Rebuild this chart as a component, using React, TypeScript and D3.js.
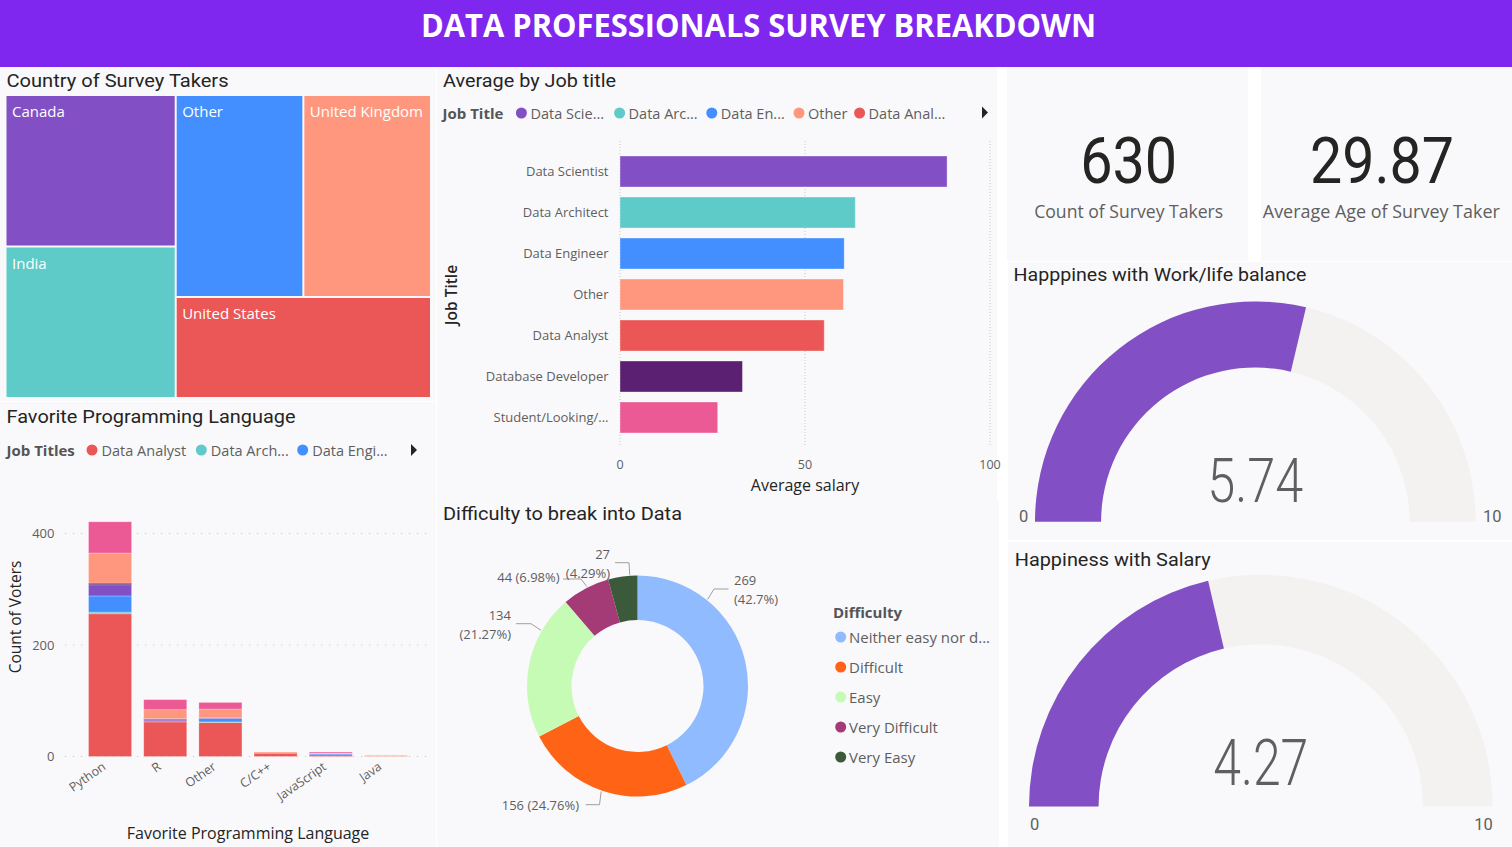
import React from 'react';
import * as d3 from 'd3';

// ---------- DATA ----------
const headerTitle = 'DATA PROFESSIONALS SURVEY BREAKDOWN';

const countries = ['Canada', 'India', 'Other', 'United Kingdom', 'United States'];
const countryCounts = [126, 126, 126, 126, 126];
const countryColors = ['#8250C4', '#5ECBC8', '#438FFF', '#FF977E', '#EB5757'];

const jobTitles = ['Data Scientist', 'Data Architect', 'Data Engineer', 'Other', 'Data Analyst', 'Database Developer', 'Student/Looking/...'];
const avgSalary = [88.4, 63.6, 60.6, 60.4, 55.2, 33.1, 26.4];
const jobColors = ['#8250C4', '#5ECBC8', '#438FFF', '#FF977E', '#EB5757', '#5B2071', '#EC5A96'];
const salaryTicks = [0, 50, 100];
const jobLegend = ['Data Scie...', 'Data Arc...', 'Data En...', 'Other', 'Data Anal...'];

const languages = ['Python', 'R', 'Other', 'C/C++', 'JavaScript', 'Java'];
const stackKeys = ['Data Analyst', 'Data Architect', 'Data Engineer', 'Data Scientist', 'Database Developer', 'Other', 'Student/Looking/None'];
const stackColors = ['#EB5757', '#5ECBC8', '#438FFF', '#8250C4', '#5B2071', '#FF977E', '#EC5A96'];
const votesDataAnalyst = [256, 62, 61, 6, 3, 0];
const votesDataArchitect = [3, 0, 1, 0, 0, 0];
const votesDataEngineer = [29, 2, 6, 0, 2, 0];
const votesDataScientist = [20, 3, 1, 0, 0, 0];
const votesDatabaseDev = [3, 1, 1, 0, 0, 0];
const votesOther = [54, 16, 15, 2, 1, 2];
const votesStudent = [56, 18, 12, 0, 2, 0];
const voteTicks = [0, 200, 400];
const langLegend = ['Data Analyst', 'Data Arch...', 'Data Engi...'];
const langLegendColors = ['#EB5757', '#5ECBC8', '#438FFF'];

const difficulty = ['Neither easy nor difficult', 'Difficult', 'Easy', 'Very Difficult', 'Very Easy'];
const difficultyLegend = ['Neither easy nor d...', 'Difficult', 'Easy', 'Very Difficult', 'Very Easy'];
const difficultyCounts = [269, 156, 134, 44, 27];
const difficultyColors = ['#91BBFF', '#FF6315', '#C5FBB4', '#A43B76', '#3B5A39'];

const surveyCount = 630;
const avgAge = 29.87;
const happyWorkLife = 5.74;
const happySalary = 4.27;
const gaugeMin = 0;
const gaugeMax = 10;

// ---------- STYLE ----------
const SANS = "'Segoe UI', 'Open Sans', sans-serif";
const DIN = "Roboto, 'Open Sans', sans-serif";
const PANEL = '#F9F9FC';
const DARK = '#252423';
const GRAY = '#605E5C';

function Txt(props: any) {
  const { w, children, ...rest } = props;
  return (
    <text {...rest} textLength={w} lengthAdjust={w ? 'spacingAndGlyphs' : undefined}>
      {children}
    </text>
  );
}

function Arrow({ x, y }: { x: number; y: number }) {
  return <path d={`M${x},${y - 6}L${x + 6},${y}L${x},${y + 6}Z`} fill="#252423" />;
}

function Treemap() {
  const root = d3
    .hierarchy({ children: countries.map((c, i) => ({ name: c, value: countryCounts[i], color: countryColors[i] })) } as any)
    .sum((d: any) => d.value || 0);
  d3.treemap().tile(d3.treemapSquarify.ratio(1)).size([423.5, 301]).paddingInner(2)(root as any);
  const leaves = root.leaves() as any[];
  return (
    <g transform="translate(6.5,96)">
      {leaves.map((l, i) => (
        <g key={i}>
          <rect x={l.x0} y={l.y0} width={l.x1 - l.x0} height={l.y1 - l.y0} fill={l.data.color} />
          <text x={l.x0 + 5.5} y={l.y0 + 21} fill="#fff" fontFamily={SANS} fontSize={15}>
            {l.data.name}
          </text>
        </g>
      ))}
    </g>
  );
}

function SalaryBars() {
  const x = d3.scaleLinear().domain([0, 100]).range([620, 990]);
  const y = d3.scaleBand().domain(jobTitles).range([143.7, 445.3]).paddingInner(0.244).paddingOuter(0.3);
  return (
    <g>
      {salaryTicks.map((t) => (
        <g key={t}>
          <line x1={x(t)} x2={x(t)} y1={141} y2={447} stroke="#C8C6C4" strokeDasharray="1,2" />
          <text x={x(t)} y={468.5} textAnchor="middle" fontFamily={SANS} fontSize={12.5} fill={GRAY}>
            {t}
          </text>
        </g>
      ))}
      {jobTitles.map((j, i) => (
        <g key={j}>
          <rect x={x(0)} y={y(j)!} width={x(avgSalary[i]) - x(0)} height={y.bandwidth()} fill={jobColors[i]} stroke="#fff" strokeOpacity={0.35} />
          <text x={608.5} y={y(j)! + y.bandwidth() / 2 + 4.5} textAnchor="end" fontFamily={SANS} fontSize={13} fill={GRAY}>
            {j}
          </text>
        </g>
      ))}
      <text transform="translate(456.5,295) rotate(-90)" textAnchor="middle" fontFamily={SANS} fontSize={15.5} fontWeight={600} fill={DARK}>
        Job Title
      </text>
      <text x={805} y={491} textAnchor="middle" fontFamily={SANS} fontSize={16} fill={DARK}>
        Average salary
      </text>
      {/* legend */}
      <text x={442.5} y={118.5} fontFamily={SANS} fontSize={15} fontWeight={700} fill="#555">
        Job Title
      </text>
      {jobLegend.map((l, i) => {
        const cx = [521.4, 619.6, 711.8, 799, 859.6][i];
        return (
          <g key={l}>
            <circle cx={cx} cy={113} r={5.5} fill={jobColors[i]} />
            <text x={cx + 9} y={118.5} fontFamily={SANS} fontSize={14.5} fill={GRAY}>
              {l}
            </text>
          </g>
        );
      })}
      <Arrow x={982} y={112.5} />
    </g>
  );
}

function LanguageStack() {
  const rows = languages.map((l, i) => ({
    lang: l,
    'Data Analyst': votesDataAnalyst[i],
    'Data Architect': votesDataArchitect[i],
    'Data Engineer': votesDataEngineer[i],
    'Data Scientist': votesDataScientist[i],
    'Database Developer': votesDatabaseDev[i],
    Other: votesOther[i],
    'Student/Looking/None': votesStudent[i],
  }));
  const series = d3.stack<any>().keys(stackKeys)(rows);
  const x = d3.scaleBand().domain(languages).range([72, 424]).paddingInner(0.22).paddingOuter(0.3);
  const y = d3.scaleLinear().domain([0, 400]).range([756.5, 533.5]);
  return (
    <g>
      {voteTicks.map((t) => (
        <g key={t}>
          <line x1={65} x2={428} y1={y(t)} y2={y(t)} stroke="#C8C6C4" strokeDasharray="1.2,6.8" />
          <text x={54.5} y={y(t) + 4.5} textAnchor="end" fontFamily={SANS} fontSize={13} fill={GRAY}>
            {t}
          </text>
        </g>
      ))}
      {series.map((s, si) =>
        s.map((d, di) =>
          d[1] - d[0] > 0 ? (
            <rect
              key={`${si}-${di}`}
              x={x(languages[di])!}
              y={y(d[1])}
              width={x.bandwidth()}
              height={y(d[0]) - y(d[1])}
              fill={stackColors[si]}
              stroke="#fff"
              strokeOpacity={0.3}
              strokeWidth={0.8}
            />
          ) : null
        )
      )}
      {languages.map((l) => (
        <text
          key={l}
          transform={`translate(${x(l)! + x.bandwidth() / 2 - 6},${765}) rotate(-35)`}
          textAnchor="end"
          fontFamily={SANS}
          fontSize={12.5}
          fill={GRAY}
          dy="0.35em"
        >
          {l}
        </text>
      ))}
      <text transform="translate(21,617) rotate(-90)" textAnchor="middle" fontFamily={SANS} fontSize={15.5} fill={DARK}>
        Count of Voters
      </text>
      <text x={248} y={838.5} textAnchor="middle" fontFamily={SANS} fontSize={16} fill={DARK}>
        Favorite Programming Language
      </text>
      {/* legend */}
      <text x={6.5} y={455.5} fontFamily={SANS} fontSize={15} fontWeight={700} fill="#555">
        Job Titles
      </text>
      {langLegend.map((l, i) => {
        const cx = [92, 201.3, 302.7][i];
        return (
          <g key={l}>
            <circle cx={cx} cy={450} r={5.5} fill={langLegendColors[i]} />
            <text x={cx + 9.5} y={455.5} fontFamily={SANS} fontSize={14.5} fill={GRAY}>
              {l}
            </text>
          </g>
        );
      })}
      <Arrow x={411} y={450} />
    </g>
  );
}

const pctFmt = (v: number) => {
  const s = d3.format('.2f')(v * 100).replace(/\.?0+$/, '');
  return `${s}%`;
};

function Donut() {
  const cx = 637.5, cy = 686, R = 110.5, r = 66;
  const total = d3.sum(difficultyCounts);
  const arcs = d3.pie<number>().sort(null).value((d) => d)(difficultyCounts);
  const arc = d3.arc<any>().innerRadius(r).outerRadius(R);
  const pt = (deg: number, rad: number) => [cx + rad * Math.sin((deg * Math.PI) / 180), cy - rad * Math.cos((deg * Math.PI) / 180)];
  // annotation layout per slice: leader angle, elbow, end, text anchor
  const lab = [
    { a: 39, elbow: [714, 589], end: [728.5, 589], tx: 734, lines: [580, 599], anchor: 'start', split: true },
    { a: 199, elbow: [599.5, 804.7], end: [585.7, 804.7], tx: 579, lines: [805], anchor: 'end', split: false },
    { a: 300, elbow: [531, 623.7], end: [516, 623.7], tx: 511, lines: [615.7, 634.7], anchor: 'end', split: true },
    { a: 333, elbow: [581, 579], end: [563, 579], tx: 559.6, lines: [577], anchor: 'end', split: false },
    { a: 356, elbow: [629, 562.7], end: [615, 562.7], tx: 610, lines: [554, 573], anchor: 'end', split: true },
  ];
  return (
    <g>
      <g transform={`translate(${cx},${cy})`}>
        {arcs.map((a, i) => (
          <path key={i} d={arc(a)!} fill={difficultyColors[i]} />
        ))}
      </g>
      {arcs.map((a, i) => {
        const L = lab[i];
        const p0 = pt(L.a, R + 1);
        const v = difficultyCounts[i];
        const pct = `(${pctFmt(v / total)})`;
        const texts = L.split ? [`${v}`, pct] : [`${v} ${pct}`];
        return (
          <g key={i}>
            <polyline points={`${p0[0]},${p0[1]} ${L.elbow[0]},${L.elbow[1]} ${L.end[0]},${L.end[1]}`} fill="none" stroke="#A19F9D" strokeWidth={1} />
            {texts.map((t, k) => (
              <text key={k} x={L.tx} y={L.lines[k] + 4.5} textAnchor={L.anchor as any} fontFamily={SANS} fontSize={13} fill={GRAY}>
                {t}
              </text>
            ))}
          </g>
        );
      })}
      <text x={833} y={617.5} fontFamily={SANS} fontSize={15} fontWeight={700} fill="#555">
        Difficulty
      </text>
      {difficulty.map((d, i) => {
        const yy = 637 + i * 30;
        return (
          <g key={d}>
            <circle cx={840.7} cy={yy} r={5.5} fill={difficultyColors[i]} />
            <text x={849} y={yy + 5.5} fontFamily={SANS} fontSize={15} fill={GRAY}>
              {difficultyLegend[i]}
            </text>
          </g>
        );
      })}
    </g>
  );
}

function Gauge(props: any) {
  const { cx, cy, R, value, valW, valY, valSize, lab0, lab10 } = props;
  const scale = d3.scaleLinear().domain([gaugeMin, gaugeMax]).range([-Math.PI / 2, Math.PI / 2]);
  const arc = d3.arc<any>().innerRadius(R * 0.7).outerRadius(R);
  return (
    <g>
      <path transform={`translate(${cx},${cy})`} d={arc({ startAngle: scale(gaugeMin), endAngle: scale(gaugeMax) })!} fill="#F3F2F1" />
      <path transform={`translate(${cx},${cy})`} d={arc({ startAngle: scale(gaugeMin), endAngle: scale(value) })!} fill="#8250C4" />
      <Txt x={cx} y={valY} w={valW} textAnchor="middle" fontFamily={DIN} fontWeight={300} fontSize={valSize} fill="#5F5F5F">
        {d3.format('.2f')(value)}
      </Txt>
      <text x={lab0[0]} y={lab0[1]} textAnchor={lab0[2]} fontFamily={DIN} fontSize={16.5} fill={GRAY}>
        {gaugeMin}
      </text>
      <text x={lab10[0]} y={lab10[1]} textAnchor={lab10[2]} fontFamily={DIN} fontSize={16.5} fill={GRAY}>
        {gaugeMax}
      </text>
    </g>
  );
}

export default function App() {
  return (
    <div>
      <style>{`html,body{margin:0;padding:0;background:#fff;}`}</style>
      <svg width={1512} height={847} style={{ display: 'block' }}>
        <rect width={1512} height={847} fill="#FFFFFF" />
        {/* panels */}
        <rect x={0} y={67} width={436} height={334} fill={PANEL} />
        <rect x={0} y={402} width={436} height={445} fill={PANEL} />
        <rect x={437} y={67} width={560} height={434} fill={PANEL} />
        <rect x={437} y={501} width={562} height={346} fill={PANEL} />
        <rect x={1007} y={67} width={241} height={194} fill={PANEL} />
        <rect x={1261} y={67} width={251} height={194} fill={PANEL} />
        <rect x={1008} y={262} width={504} height={278} fill={PANEL} />
        <rect x={1008} y={542} width={504} height={305} fill={PANEL} />

        {/* header */}
        <rect x={0} y={0} width={1512} height={67} fill="#7F27EE" />
        <Txt x={758.5} y={36.8} w={675} textAnchor="middle" fontFamily="'Open Sans', sans-serif" fontWeight={700} fontSize={31.5} fill="#fff">
          {headerTitle}
        </Txt>

        {/* section titles */}
        <Txt x={6.5} y={86.5} w={222} fontFamily={DIN} fontSize={19} fill={DARK}>Country of Survey Takers</Txt>
        <Txt x={443} y={86.5} w={173} fontFamily={DIN} fontSize={19} fill={DARK}>Average by Job title</Txt>
        <Txt x={6.5} y={423.3} w={289} fontFamily={DIN} fontSize={19} fill={DARK}>Favorite Programming Language</Txt>
        <Txt x={443} y={520} w={239} fontFamily={DIN} fontSize={19} fill={DARK}>Difficulty to break into Data</Txt>
        <Txt x={1013.5} y={280.7} w={293} fontFamily={DIN} fontSize={19} fill={DARK}>Happpines with Work/life balance</Txt>
        <Txt x={1014.7} y={565.7} w={196} fontFamily={DIN} fontSize={19} fill={DARK}>Happiness with Salary</Txt>

        <Treemap />
        <SalaryBars />
        <LanguageStack />
        <Donut />

        {/* KPI cards */}
        <Txt x={1128.7} y={183.3} w={97} textAnchor="middle" fontFamily={DIN} fontSize={64} fill={DARK}>
          {d3.format('d')(surveyCount)}
        </Txt>
        <Txt x={1128.7} y={218.3} w={189} textAnchor="middle" fontFamily={SANS} fontSize={18.5} fill={GRAY}>
          Count of Survey Takers
        </Txt>
        <Txt x={1382} y={183.3} w={144} textAnchor="middle" fontFamily={DIN} fontSize={64} fill={DARK}>
          {d3.format('.2f')(avgAge)}
        </Txt>
        <Txt x={1381.3} y={218.3} w={237} textAnchor="middle" fontFamily={SANS} fontSize={18.5} fill={GRAY}>
          Average Age of Survey Taker
        </Txt>

        <Gauge cx={1255.3} cy={521.7} R={220.3} value={happyWorkLife} valW={96} valY={502.3} valSize={62}
          lab0={[1028.3, 521.7, 'end']} lab10={[1483, 521.7, 'start']} />
        <Gauge cx={1260.8} cy={806.6} R={231.8} value={happySalary} valW={95} valY={785} valSize={64}
          lab0={[1030, 830, 'start']} lab10={[1492.7, 830, 'end']} />
      </svg>
    </div>
  );
}
